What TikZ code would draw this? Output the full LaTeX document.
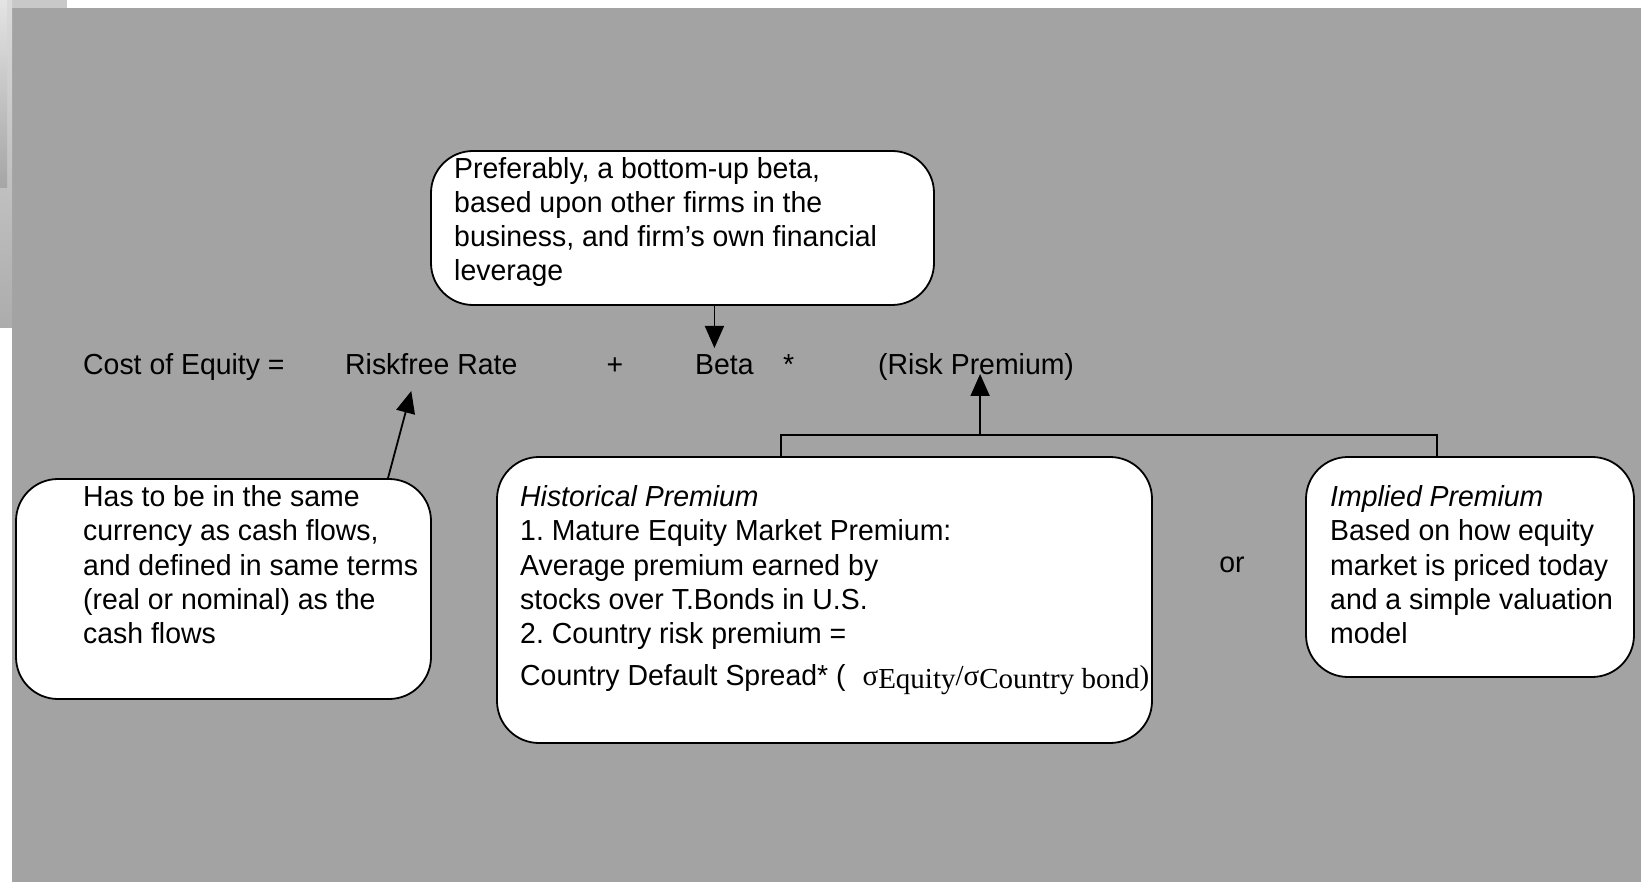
\documentclass[tikz,border=0pt]{standalone}
\usepackage{fontspec}
\setmainfont{Liberation Sans}[FakeStretch=0.98]
\newfontfamily\timesf{Liberation Serif}
\usetikzlibrary{arrows.meta}
\definecolor{bg}{RGB}{163,163,163}
\definecolor{lt}{RGB}{200,200,200}
\frenchspacing
\begin{document}
\begin{tikzpicture}[x=1pt,y=-1pt,
  box/.style={draw=black, line width=1.8pt, fill=white, rounded corners=42pt, inner sep=0pt},
  txt/.style={inner sep=0pt, align=left, anchor=north west, font=\fontsize{29}{34.2}\selectfont},
  lab/.style={inner sep=0pt, anchor=base west, font=\fontsize{29}{34.2}\selectfont},
  arr/.style={line width=1.8pt, -{Triangle[length=22pt,width=19pt]}},
  con/.style={line width=1.8pt}]
\useasboundingbox (0,0) rectangle (1641,882);
\fill[white] (0,0) rectangle (1641,882);
\fill[bg] (12,8) rectangle (1641,882);
\fill[lt] (0,0) rectangle (67,8);
\shade[top color={rgb,255:red,218;green,218;blue,218}, bottom color={rgb,255:red,172;green,172;blue,172}] (0,0) rectangle (12,328);
\shade[top color={rgb,255:red,228;green,228;blue,228}, bottom color={rgb,255:red,165;green,165;blue,165}] (0,0) rectangle (7,188);

% boxes
\node[box, minimum width=503pt, minimum height=154pt] (topbox) at (682.5,228) {};
\node[box, minimum width=415pt, minimum height=220pt] (leftbox) at (223.5,589) {};
\node[box, minimum width=655pt, minimum height=286pt] (midbox) at (824.5,600) {};
\node[box, minimum width=328pt, minimum height=220pt] (rightbox) at (1470,567) {};

% box texts
\node[txt] (toptext) at (454,157) {Preferably, a bottom-up beta,\\based upon other firms in the\\business, and firm’s own financial\\leverage};
\node[txt] (lefttext) at (83,485.5) {Has to be in the same\\currency as cash flows,\\and defined in same terms\\(real or nominal) as the\\cash flows};
\node[txt] (midtext) at (520,485.5) {\textit{Historical Premium}\\1. Mature Equity Market Premium:\\Average premium earned by\\stocks over T.Bonds in U.S.\\2. Country risk premium =\\[7.5pt]Country Default Spread* (\hspace{17pt}{\timesf σ\raisebox{-3pt}{Equity}/σ\raisebox{-3pt}{Country bond})}};
\node[txt] (righttext) at (1330,485.5) {\textit{Implied Premium}\\Based on how equity\\market is priced today\\and a simple valuation\\model};

% equation row
\node[lab] (cost) at (83,374.5) {Cost of Equity =};
\node[lab] (riskfree) at (345,374.5) {Riskfree Rate};
\node[lab, anchor=base] (plus) at (615,374.5) {+};
\node[lab] (beta) at (695,374.5) {Beta};
\node[lab] (star) at (783,374.5) {*};
\node[lab] (premium) at (878,374.5) {(Risk Premium)};
\node[lab, anchor=base] (or) at (1232,572.5) {or};

% connectors
\coordinate (betatip) at ([xshift=-10pt,yshift=26.5pt]beta.base);
\draw[arr] (topbox.south -| betatip) -- (betatip);
\coordinate (rftip) at ([xshift=-20pt,yshift=-16.5pt]riskfree.base);
\draw[arr] ([xshift=164.5pt]leftbox.north) -- (rftip);
\coordinate (junc) at ([xshift=4pt,yshift=-60.5pt]premium.base);
\coordinate (premtip) at ([xshift=4pt,yshift=0.5pt]premium.base);
\draw[con] ([xshift=-43.5pt]midbox.north) |- (junc) -| ([xshift=-33pt]rightbox.north);
\draw[arr] (junc) -- (premtip);
\end{tikzpicture}
\end{document}
